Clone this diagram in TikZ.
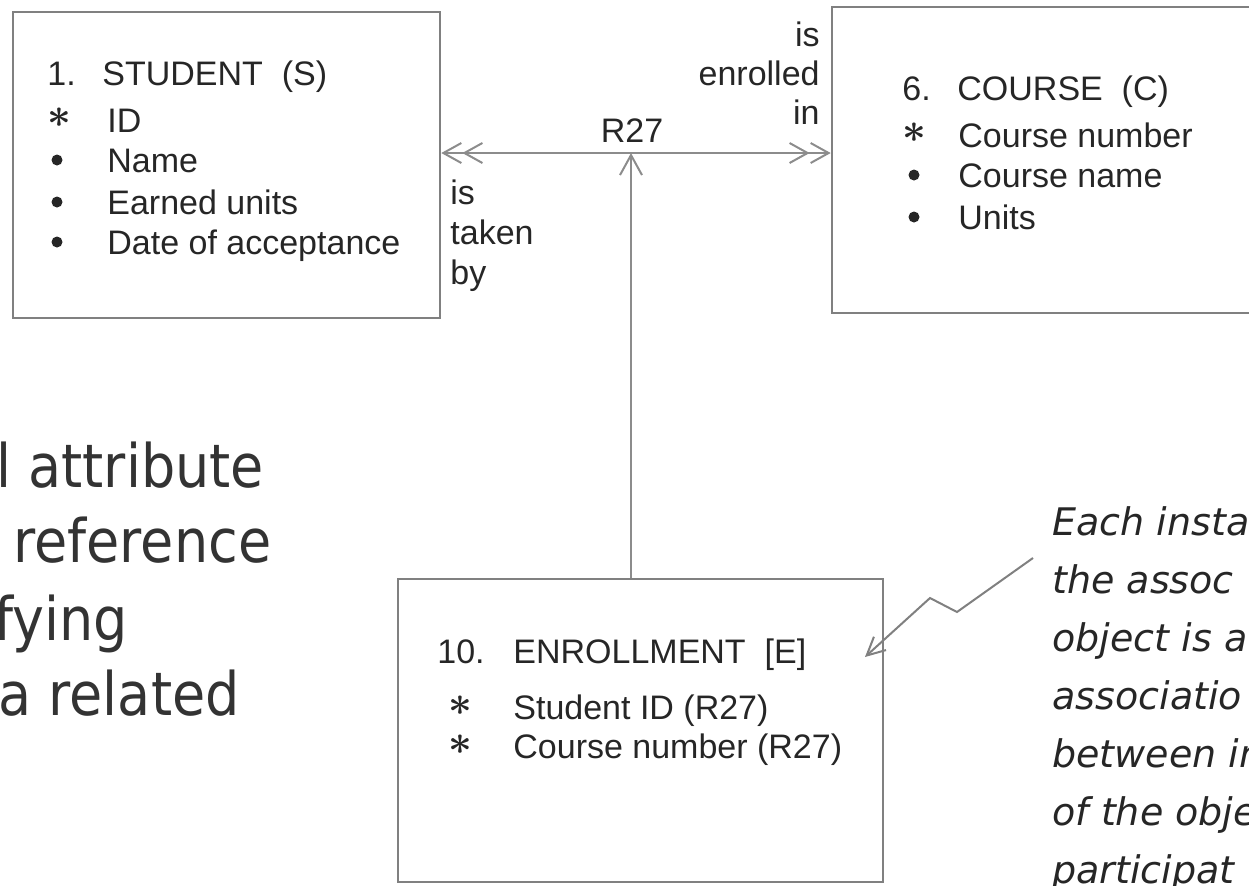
\documentclass[tikz,border=0pt]{standalone}
\usepackage{fontspec}
\setmainfont{Liberation Sans}
\newfontfamily\slidefont[FakeStretch=0.9]{DejaVu Sans}
\newfontfamily\notefont{DejaVu Sans}
\usetikzlibrary{arrows.meta}
\definecolor{boxgray}{HTML}{808080}
\definecolor{linegray}{HTML}{8C8C8C}
\definecolor{slidegray}{HTML}{333333}
\definecolor{inkgray}{HTML}{262626}

\begin{document}
\begin{tikzpicture}[x=0.5pt, y=-0.5pt,
    entity/.style={draw=boxgray, line width=1.3pt, inner sep=0pt},
    attrtext/.style={anchor=base west, inner sep=0pt, text=inkgray, font=\fontsize{17}{20}\selectfont},
    rolelabel/.style={inner sep=0pt, text=inkgray, font=\fontsize{17}{20}\selectfont},
    keystar/.style={inner sep=0pt, text=inkgray, font=\fontsize{22}{22}\selectfont\boldmath},
    relline/.style={draw=linegray, line width=1pt},
    barbs/.style={arrows={Straight Barb[length=9pt,width=10pt] Straight Barb[length=9pt,width=10pt]-Straight Barb[length=9pt,width=10pt] Straight Barb[length=9pt,width=10pt]}},
    slidetext/.style={anchor=base west, inner sep=0pt, text=slidegray, font=\slidefont\fontsize{30}{36}\selectfont},
    notetext/.style={anchor=base west, inner sep=0pt, text=inkgray, font=\notefont\itshape\fontsize{19}{22}\selectfont}]
    \useasboundingbox (0,0) rectangle (1249,885);
    \clip (0,0) rectangle (1249,885);

    % entity boxes
    \node (student) [entity, minimum width=213.5pt, minimum height=153pt] at (226.5,165) {};
    \node (course) [entity, minimum width=234pt, minimum height=153pt] at (1066,160) {};
    \node (enroll) [entity, minimum width=242.5pt, minimum height=151.5pt] at (640.5,730.5) {};

    % 1. STUDENT
    \node (s-num) [attrtext] at (47,85) {1.};
    \node (s-title) [attrtext] at (102,85) {STUDENT\ \ (S)};
    \node (s-star) [keystar] at (59,118) {$\ast$};
    \node (s-id) [attrtext] at (107,132) {ID};
    \fill[inkgray] (57,160) circle(5.5);
    \node (s-name) [attrtext] at (107,172) {Name};
    \fill[inkgray] (57,202) circle(5.5);
    \node (s-units) [attrtext] at (107,214) {Earned units};
    \fill[inkgray] (57,242) circle(5.5);
    \node (s-date) [attrtext] at (107,254) {Date of acceptance};

    % 6. COURSE
    \node (c-num) [attrtext] at (902,100) {6.};
    \node (c-title) [attrtext] at (957,100) {COURSE\ \ (C)};
    \node (c-star) [keystar] at (914,133) {$\ast$};
    \node (c-number) [attrtext] at (958,147) {Course number};
    \fill[inkgray] (914,175) circle(5.5);
    \node (c-name) [attrtext] at (958,187) {Course name};
    \fill[inkgray] (914,217) circle(5.5);
    \node (c-units) [attrtext] at (958,229) {Units};

    % 10. ENROLLMENT
    \node (e-num) [attrtext] at (437,663) {10.};
    \node (e-title) [attrtext] at (513,663) {ENROLLMENT\ \ [E]};
    \node (e-star1) [keystar] at (460,706) {$\ast$};
    \node (e-student) [attrtext] at (513,719) {Student ID (R27)};
    \node (e-star2) [keystar] at (460,745) {$\ast$};
    \node (e-course) [attrtext] at (513,758) {Course number (R27)};

    % relationship R27
    \coordinate (r27) at (631,153);
    \node (r27-label) [rolelabel, anchor=base] at (632,142) {R27};
    \draw[relline, barbs] (student.east |- r27) -- (course.west |- r27);
    \draw[relline, -{Straight Barb[length=10pt,width=11pt]}] (enroll.north -| r27) -- (r27);

    \node (enr-is) [rolelabel, anchor=base east] at (820,46) {is};
    \node (enr-verb) [rolelabel, anchor=base east] at (820,85) {enrolled};
    \node (enr-in) [rolelabel, anchor=base east] at (820,124) {in};
    \node (tak-is) [rolelabel, anchor=base west] at (450,204) {is};
    \node (tak-verb) [rolelabel, anchor=base west] at (450,244) {taken};
    \node (tak-by) [rolelabel, anchor=base west] at (450,284) {by};

    % slide text, cut at the left edge
    \node (slide-a) [slidetext] at (-4,487) {l attribute};
    \node (slide-b) [slidetext] at (13,562) {reference};
    \node (slide-c) [slidetext] at (-6,640) {fying};
    \node (slide-d) [slidetext] at (-2,715) {a related};

    % note, cut at the right edge
    \coordinate (notestart) at (1033,558);
    \coordinate (notetip) at (865,657);
    \draw[relline, draw=boxgray, -{Straight Barb[length=9pt,width=9pt]}] (notestart) -- (957,612) -- (930,598) -- (notetip);
    \node (note-a) [notetext] at (1052,535) {Each insta};
    \node (note-b) [notetext] at (1052,593) {the assoc};
    \node (note-c) [notetext] at (1052,651) {object is a};
    \node (note-d) [notetext] at (1052,709) {associatio};
    \node (note-e) [notetext] at (1052,767) {between in};
    \node (note-f) [notetext] at (1052,825) {of the obje};
    \node (note-g) [notetext] at (1052,883) {participat};
\end{tikzpicture}
\end{document}
